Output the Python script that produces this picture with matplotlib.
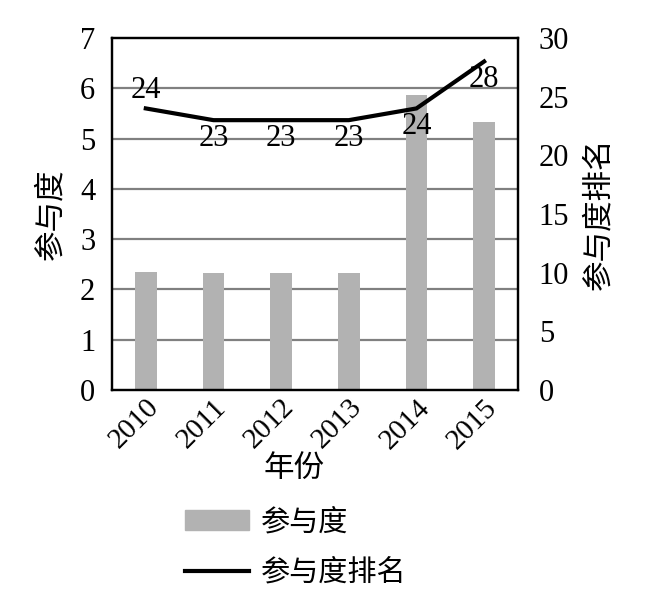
import matplotlib.pyplot as plt
import matplotlib.patches as mpatches
from matplotlib.lines import Line2D

plt.rcParams['font.family'] = ['Liberation Serif', 'Noto Sans CJK SC']

years = ['2010', '2011', '2012', '2013', '2014', '2015']
participation = [2.35, 2.32, 2.32, 2.33, 5.87, 5.33]
rank = [24, 23, 23, 23, 24, 28]
rank_above = [True, False, False, False, False, False]

fig = plt.figure(figsize=(6.61, 5.96), dpi=100)
ax = fig.add_axes([0.1694, 0.3456, 0.6142, 0.5906])
ax2 = ax.twinx()

x = list(range(len(years)))
ax.bar(x, participation, width=0.32, color='#b2b2b2', zorder=2)
ax.set_ylim(0, 7)
ax.set_xlim(-0.5, 5.5)
ax.set_yticks(range(0, 8))
for v in range(1, 7):
    ax.axhline(v, color='#808080', lw=1.6, zorder=1)

ax2.plot(x, rank, color='black', lw=3, solid_joinstyle='miter', zorder=3)
ax2.set_ylim(0, 30)
ax2.set_yticks(range(0, 31, 5))
for xi, r, up in zip(x, rank, rank_above):
    ax2.annotate(str(r), (xi, r), xytext=(0, 13 if up else -13), textcoords='offset points',
                 ha='center', va='center', fontsize=22)

ax.set_xticks(x)
ax.set_xticklabels(years, rotation=45, ha='right', va='top', rotation_mode='anchor')
ax.tick_params(axis='x', length=0, labelsize=21, pad=3)
ax.tick_params(axis='y', length=0, labelsize=22, pad=12)
ax2.tick_params(axis='y', length=0, labelsize=22, pad=15)
for a in (ax, ax2):
    for s in a.spines.values():
        s.set_linewidth(1.6)
        s.set_color('black')

ax.set_ylabel('参与度', fontsize=22)
ax.yaxis.set_label_coords(-0.113, 0.5)
ax2.set_ylabel('参与度排名', fontsize=22, rotation=90)
ax2.yaxis.set_label_coords(1.165, 0.5)
ax.set_xlabel('年份', fontsize=22)
ax.xaxis.set_label_coords(0.448, -0.185)

handles = [mpatches.Patch(color='#b2b2b2', label='参与度'),
           Line2D([0], [0], color='black', lw=3, label='参与度排名')]
fig.legend(handles=handles, loc='center left', bbox_to_anchor=(0.28, 0.081), frameon=False,
           fontsize=21, handlelength=2.2, handletextpad=0.4, labelspacing=0.8,
           borderpad=0, borderaxespad=0)

fig.savefig('out.png', dpi=100)
